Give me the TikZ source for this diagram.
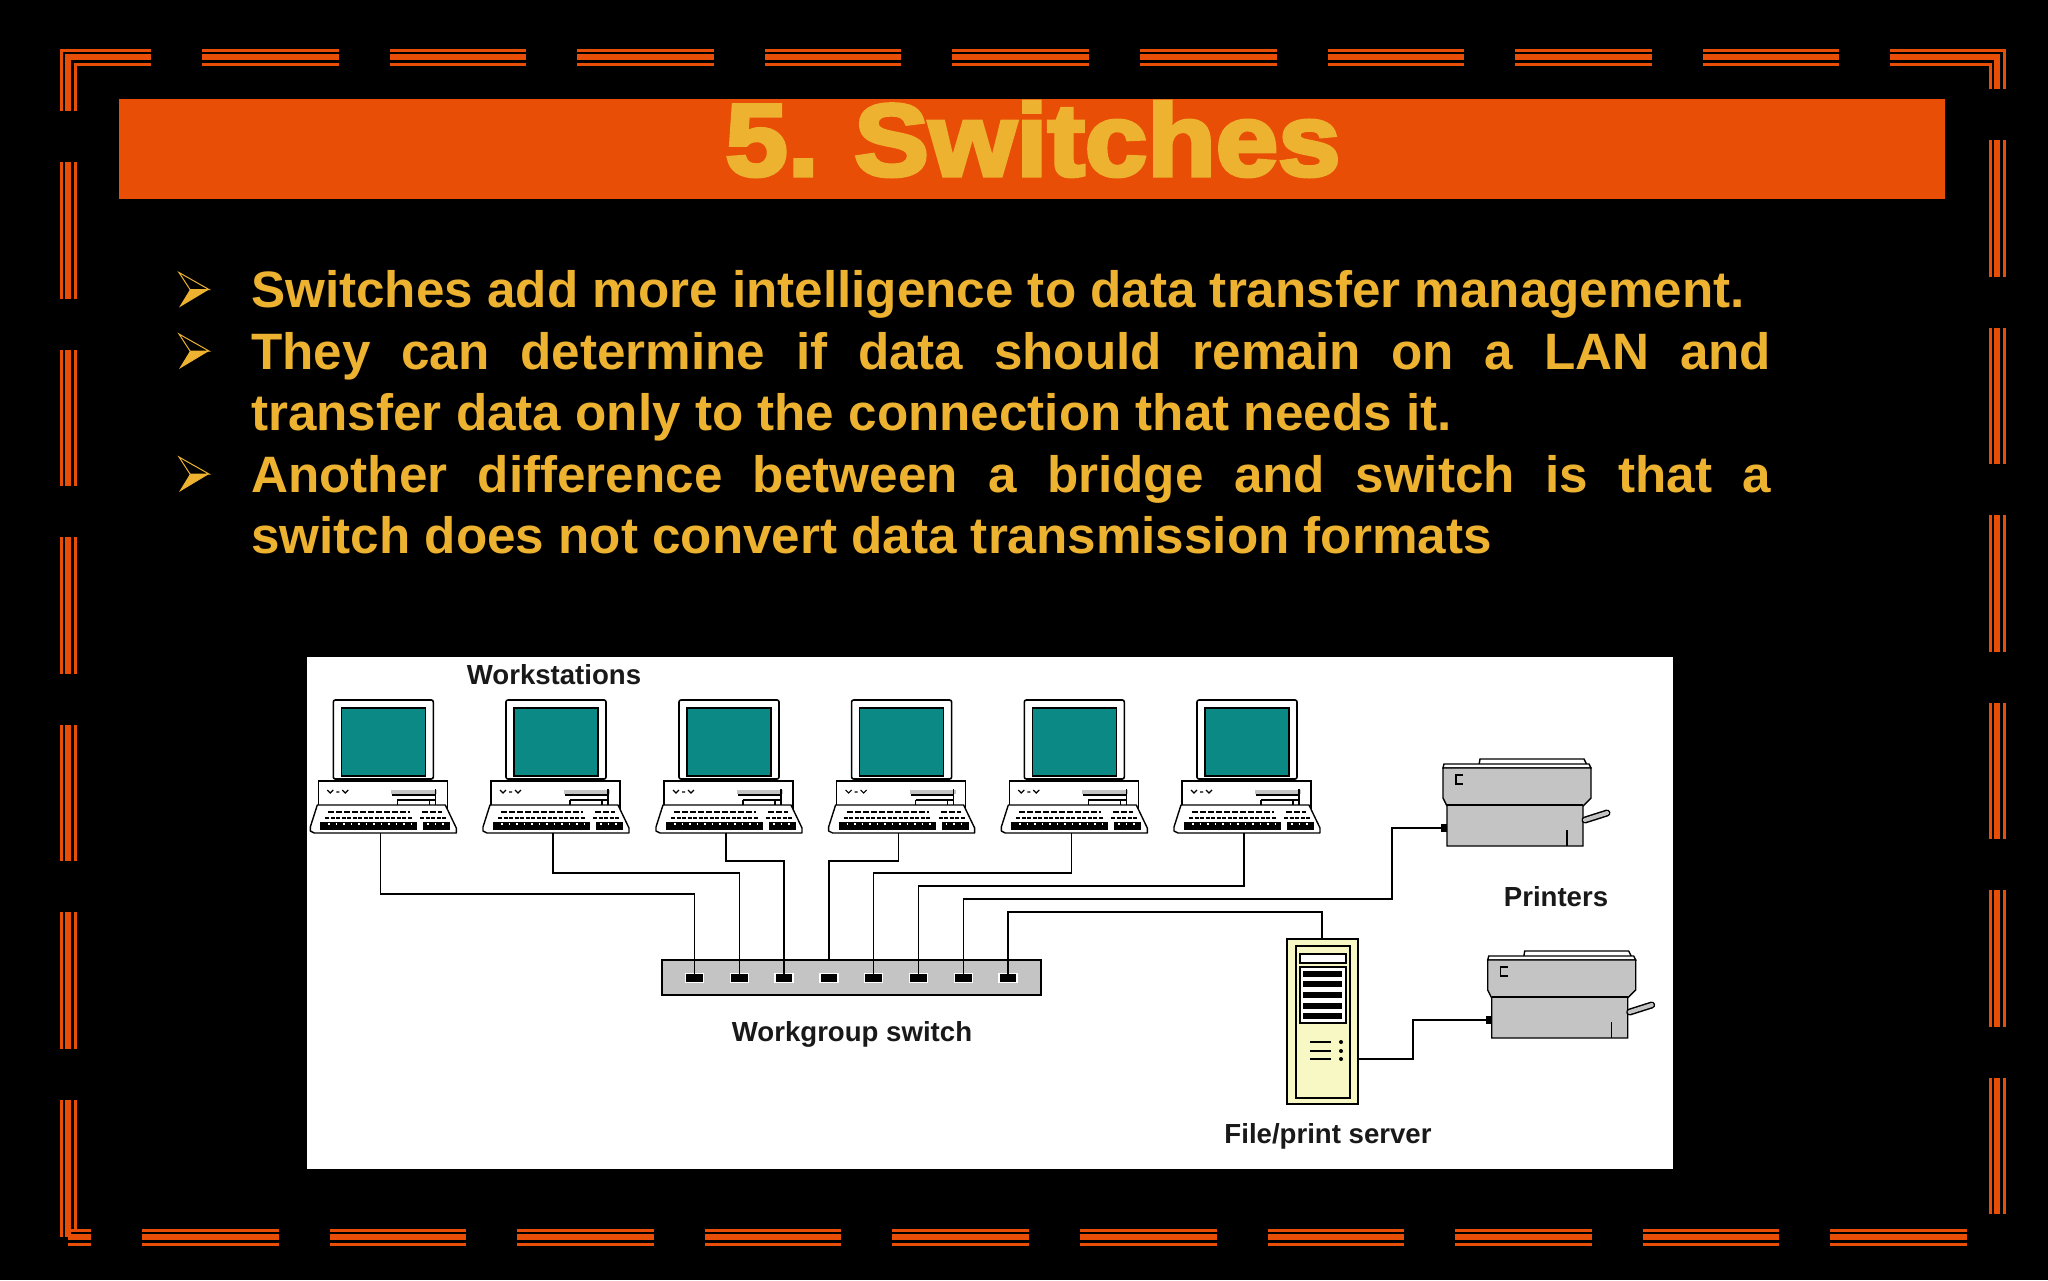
\documentclass[tikz,border=0pt]{standalone}
\usepackage{fontspec}
\setmainfont{Liberation Sans}
\newfontfamily\titlefont[FakeBold=4,FakeStretch=1.1,WordSpace=0.8]{Liberation Sans Bold}
\usetikzlibrary{calc}
\definecolor{barorange}{HTML}{E84E05}
\definecolor{textgold}{HTML}{EDB22F}
\definecolor{screenteal}{HTML}{0B8A85}
\definecolor{boxgrey}{HTML}{C4C4C4}
\definecolor{servercream}{HTML}{F8F8C4}
\tikzset{
	thinbar/.style={draw=barorange, line width=3pt},
	thickbar/.style={draw=barorange, line width=6pt},
	cable/.style={draw=black, line width=1.5pt},
	bodytext/.style={text=textgold, font=\fontsize{51.2}{61.6}\selectfont\bfseries, text width=1520pt, align=justify, anchor=north west, inner sep=0pt},
	smalllabel/.style={text=black!90, font=\fontsize{27.6}{30}\selectfont\bfseries, inner sep=0pt},
	port/.style={rectangle, fill=black, draw=white, line width=1.2pt, minimum width=18pt, minimum height=9pt, inner sep=0pt, outer sep=-1pt},
	pics/bullet/.style={code={
		\draw[textgold, line width=1pt, line join=miter] (-30,-17) -- (0,0) -- (-19,0) -- cycle;
		\fill[textgold] (-30,18) -- (0,0) -- (-19,0) -- cycle;
	}},
	pics/workstation/.style={code={
		\draw[fill=white, line width=1.6pt, rounded corners=2pt] (-47,-133) rectangle (53,-54);
		\fill[screenteal] (-39,-125) rectangle (45,-57);
		\draw[line width=1.2pt] (-39,-125) rectangle (45,-57);
		\fill[black] (-42,-55) rectangle (48,-52);
		\draw[fill=white, line width=1.4pt] (-62,-52) rectangle (67,-25);
		% front of the case
		\draw[line width=1.2pt] (-53,-43) -- (-50,-40) -- (-47,-43) (-44,-41) -- (-41,-41) (-38,-43) -- (-35,-40) -- (-32,-43);
		\fill[boxgrey] (11,-43) rectangle (57,-39);
		\draw[line width=1.6pt] (12,-38) -- (55,-38) (17,-33) -- (55,-33) (17,-33) -- (17,-28) (55,-44) -- (55,-28) (49,-33) -- (49,-28);
		% keyboard
		\draw[fill=white, line width=1.4pt, line join=round] (-63,-28) -- (-70,-6) -- (-70,-2) -- (-66,0) -- (76,0) -- (76,-5) -- (65,-28) -- cycle;
		\draw[line width=1.6pt, dash pattern=on 6pt off 2pt] (-52,-21) -- (30,-21) (42,-21) -- (62,-21);
		\draw[line width=1.6pt, dash pattern=on 4pt off 1.5pt] (-55,-15) -- (32,-15) (40,-15) -- (66,-15);
		\fill[black] (-60,-11) rectangle (37,-3);
		\fill[black] (43,-11) rectangle (70,-3);
		\draw[white, line width=1.4pt, dash pattern=on 1.5pt off 6pt] (-52,-9) -- (35,-9) (47,-9) -- (68,-9);
	}},
	pics/printer/.style={code={
		\draw[fill=white, line width=1.4pt] (37,-63) -- (38,-69) -- (142,-69) -- (145,-63);
		\draw[fill=white, line width=1.4pt] (1,-60) -- (2,-64) -- (147,-64) -- (149,-60) -- cycle;
		\draw[fill=boxgrey, line width=1.4pt] (1,-60) -- (149,-60) -- (149,-30) -- (141,-22) -- (141,18) -- (5,18) -- (5,-22) -- (1,-30) -- cycle;
		\draw[line width=1.4pt] (5,-23) -- (141,-23);
		\draw[line width=1.4pt] (21,-53) -- (14,-53) -- (14,-44) -- (21,-44);
		\draw[line width=1.4pt] (125,2) -- (125,18);
		\fill[black] (-1,-4) rectangle (5,4);
		\draw[line width=7pt, line cap=round] (143,-8) -- (165,-15);
		\draw[boxgrey, line width=4pt, line cap=round] (143,-8) -- (165,-15);
	}},
	pics/tower/.style={code={
		\draw[fill=servercream, line width=1.4pt] (1287,939) rectangle (1358,1104);
		\draw[line width=1.4pt] (1296,946) rectangle (1350,1098);
		\draw[fill=white, line width=1.4pt] (1300,954) rectangle (1346,963);
		\draw[fill=white, line width=1.4pt] (1300,967) rectangle (1346,1023);
		\fill[black] (1303,971) rectangle (1342,977);
		\fill[black] (1303,981) rectangle (1342,987);
		\fill[black] (1303,992) rectangle (1342,998);
		\fill[black] (1303,1003) rectangle (1342,1009);
		\fill[black] (1303,1013) rectangle (1342,1019);
		\draw[line width=1.1pt] (1310,1042) -- (1331,1042) (1310,1051) -- (1331,1051) (1310,1059) -- (1331,1059);
		\fill[black] (1341,1042) circle (2pt) (1341,1051) circle (2pt) (1341,1059) circle (2pt);
	}},
}
\begin{document}
\begin{tikzpicture}[x=1pt, y=-1pt]
	\fill[black] (0,0) rectangle (2048,1280);
	\useasboundingbox (0,0) rectangle (2048,1280);

	% frame
	\tikzstyle{topdash}=[dash pattern=on 136.6pt off 51pt]
	\draw[thinbar] (61,111) -- (61,50) -- (151,50);
	\draw[thickbar] (68,111) -- (68,57) -- (151,57);
	\draw[thinbar] (75,111) -- (75,64) -- (151,64);
	\draw[thinbar, topdash] (202,50) -- (1891,50);
	\draw[thickbar, topdash] (202,57) -- (1891,57);
	\draw[thinbar, topdash] (202,64) -- (1891,64);
	\draw[thinbar] (1891,50) -- (2004,50) -- (2004,89);
	\draw[thickbar] (1891,57) -- (1997,57) -- (1997,89);
	\draw[thinbar] (1891,64) -- (1990,64) -- (1990,89);
	\draw[thinbar, topdash] (1990,140) -- (1990,1214);
	\draw[thickbar, topdash] (1997,140) -- (1997,1214);
	\draw[thinbar, topdash] (2004,140) -- (2004,1214);
	\draw[thinbar, topdash] (61,162) -- (61,1237);
	\draw[thickbar, topdash] (68,162) -- (68,1237);
	\draw[thinbar, topdash] (75,162) -- (75,1230);
	\draw[thinbar] (68,1230) -- (91,1230);
	\draw[thickbar] (68,1237) -- (91,1237);
	\draw[thinbar] (68,1244) -- (91,1244);
	\draw[thinbar, topdash] (142,1230) -- (1968,1230);
	\draw[thickbar, topdash] (142,1237) -- (1968,1237);
	\draw[thinbar, topdash] (142,1244) -- (1968,1244);

	% title
	\fill[barorange] (119,99) rectangle (1945,199);
	\draw node[text=textgold, inner sep=0pt, font=\titlefont\fontsize{102}{102}\selectfont] at (1033,139) (title) {5. Switches};

	% bullets
	\draw pic at (209,289.5) {bullet};
	\draw pic at (209,351) {bullet};
	\draw pic at (209,474) {bullet};
	\draw node[bodytext] at (251,270) (line1) {Switches add more intelligence to data transfer management.};
	\draw node[bodytext] at (251,332) (line2) {They can determine if data should remain on a LAN and\linebreak transfer data only to the connection that needs it.};
	\draw node[bodytext] at (251,455) (line3) {Another difference between a bridge and switch is that a\linebreak switch does not convert data transmission formats};

	% network picture
	\fill[white] (307,657) rectangle (1673,1169);
	\draw node[smalllabel] at (554,675) (wslabel) {Workstations};
	\draw node[smalllabel] at (852,1034.5) (swlabel) {Workgroup switch};
	\draw node[smalllabel] at (1556,897) (prlabel) {Printers};
	\draw node[smalllabel] at (1328,1136.5) (srvlabel) {File/print server};

	\coordinate (ws1) at (380.3,833);
	\coordinate (ws2) at (553,833);
	\coordinate (ws3) at (726,833);
	\coordinate (ws4) at (898.6,833);
	\coordinate (ws5) at (1071.3,833);
	\coordinate (ws6) at (1244,833);
	\draw pic at (ws1) {workstation};
	\draw pic at (ws2) {workstation};
	\draw pic at (ws3) {workstation};
	\draw pic at (ws4) {workstation};
	\draw pic at (ws5) {workstation};
	\draw pic at (ws6) {workstation};

	\draw node[rectangle, draw=black, fill=boxgrey, line width=1.4pt, minimum width=379pt, minimum height=35pt, inner sep=0pt, outer sep=0pt] at (851.5,977.5) (sw) {};
	\draw node[port] at (694.3,977.7) (p1) {};
	\draw node[port] at (739.3,977.7) (p2) {};
	\draw node[port] at (784,977.7) (p3) {};
	\draw node[port] at (829,977.7) (p4) {};
	\draw node[port] at (873.7,977.7) (p5) {};
	\draw node[port] at (918.7,977.7) (p6) {};
	\draw node[port] at (963.3,977.7) (p7) {};
	\draw node[port] at (1008,977.7) (p8) {};

	\coordinate (pr1) at (1442,828);
	\coordinate (pr2) at (1486.7,1020);
	\draw pic at (pr1) {printer};
	\draw pic at (pr2) {printer};
	\draw pic at (0,0) {tower};
	\coordinate (srvtop) at (1322,939);
	\coordinate (srvside) at (1358,1059);

	\draw[cable] (ws1) -- ++(0,61) -| (p1);
	\draw[cable] (ws2) -- ++(0,40) -| (p2);
	\draw[cable] (ws3) -- ++(0,28) -| (p3);
	\draw[cable] (ws4) -- ++(0,28) -| (p4 |- sw.north);
	\draw[cable] (ws5) -- ++(0,40) -| (p5);
	\draw[cable] (ws6) -- ++(0,53) -| (p6);
	\draw[cable] (pr1) -- ++(-50,0) |- ($(p7)+(60,-78.7)$) -| (p7);
	\draw[cable] (srvtop) -- ++(0,-27) -| (p8);
	\draw[cable] (srvside) -- ++(55,0) |- (pr2);
\end{tikzpicture}
\end{document}
